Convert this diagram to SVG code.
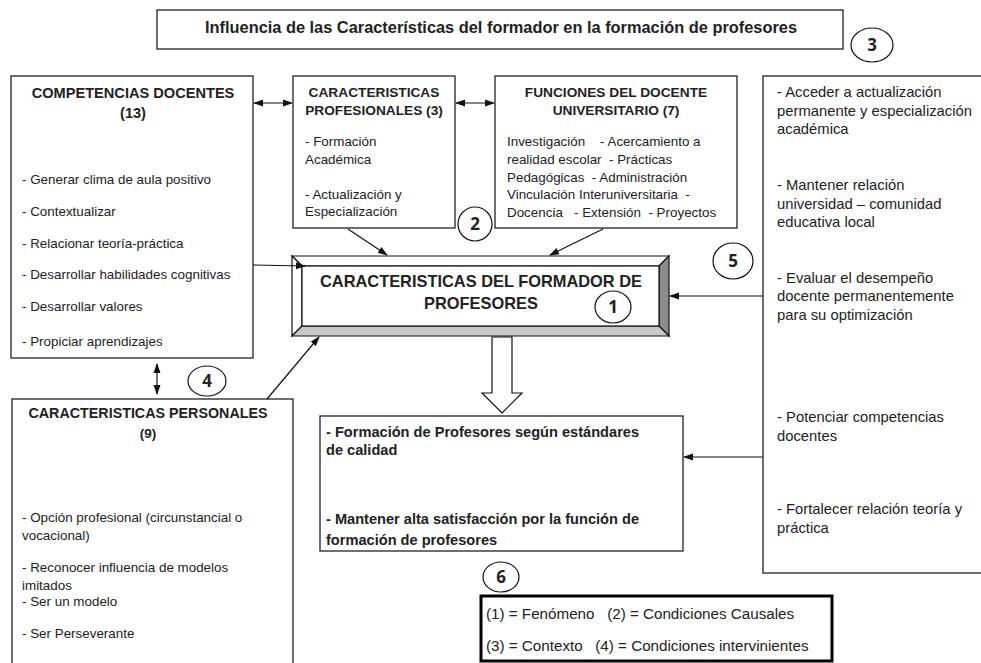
<svg xmlns="http://www.w3.org/2000/svg" width="981" height="663" viewBox="0 0 981 663">
<style>
text{font-family:"Liberation Sans",Arial,sans-serif;fill:#222}
.box{fill:#fff;stroke:#222;stroke-width:1.3}
.t{font-size:13.4px}
.r{font-size:14.8px}
.b{font-weight:bold}
.h{font-size:13.7px;font-weight:bold}
.c{text-anchor:middle}
.circ{fill:#fff;stroke:#111;stroke-width:1.2}
.num{font-family:"Open Sans","Liberation Sans",sans-serif;font-size:17px;font-weight:bold;text-anchor:middle;fill:#222}
.ln{stroke:#111;stroke-width:1.2;fill:none}
</style>
<defs>
<marker id="ah" markerWidth="10" markerHeight="8" refX="9" refY="4" orient="auto" markerUnits="userSpaceOnUse">
<path d="M0,0.5 L10,4 L0,7.5 Z" fill="#111"/>
</marker>
<marker id="as" markerWidth="10" markerHeight="8" refX="1" refY="4" orient="auto" markerUnits="userSpaceOnUse">
<path d="M10,0.5 L0,4 L10,7.5 Z" fill="#111"/>
</marker>
</defs>
<rect width="981" height="663" fill="#fff"/>

<g id="title">
<rect class="box" x="157" y="10" width="686" height="39"/>
<text class="c b" x="501" y="33" style="font-size:16px" textLength="592" lengthAdjust="spacingAndGlyphs">Influencia de las Características del formador en la formación de profesores</text>
</g>
<g id="n3"><ellipse class="circ" cx="872" cy="45" rx="21" ry="17"/><text class="num" x="872" y="51">3</text></g>

<g id="competencias">
<rect class="box" x="11" y="76" width="242" height="282"/>
<text class="b c" x="133" y="98" style="font-size:14.6px">COMPETENCIAS DOCENTES</text>
<text class="b c" x="133" y="118" style="font-size:14.6px">(13)</text>
<text class="t" x="22" y="184">- Generar clima de aula positivo</text>
<text class="t" x="22" y="216">- Contextualizar</text>
<text class="t" x="22" y="248">- Relacionar teoría-práctica</text>
<text class="t" x="22" y="279">- Desarrollar habilidades cognitivas</text>
<text class="t" x="22" y="311">- Desarrollar valores</text>
<text class="t" x="22" y="346">- Propiciar aprendizajes</text>
</g>

<g id="profesionales">
<rect class="box" x="293" y="76" width="162" height="152"/>
<text class="h c" x="374" y="97">CARACTERISTICAS</text>
<text class="h c" x="374" y="115">PROFESIONALES (3)</text>
<text class="t" x="305" y="146">- Formación</text>
<text class="t" x="305" y="164">Académica</text>
<text class="t" x="305" y="199">- Actualización y</text>
<text class="t" x="305" y="216">Especialización</text>
</g>

<g id="funciones">
<rect class="box" x="495" y="76" width="242" height="152"/>
<text class="h c" x="616" y="97">FUNCIONES DEL DOCENTE</text>
<text class="h c" x="616" y="115">UNIVERSITARIO (7)</text>
<text class="t" x="507" y="146" xml:space="preserve">Investigación    - Acercamiento a</text>
<text class="t" x="507" y="164" xml:space="preserve">realidad escolar  - Prácticas</text>
<text class="t" x="507" y="182" xml:space="preserve">Pedagógicas  - Administración</text>
<text class="t" x="507" y="199" xml:space="preserve">Vinculación Interuniversitaria  -</text>
<text class="t" x="507" y="217" xml:space="preserve">Docencia   - Extensión  - Proyectos</text>
</g>
<g id="n2"><ellipse class="circ" cx="475" cy="224" rx="17" ry="17"/><text class="num" x="475" y="230">2</text></g>

<g id="fenomeno">
<rect x="292" y="256" width="377" height="80" fill="#fff"/>
<polygon points="292,256 669,256 659,266 302,266" fill="#fff" stroke="#111" stroke-width="1.2"/>
<polygon points="292,256 302,266 302,326 292,336" fill="#fff" stroke="#111" stroke-width="1.2"/>
<polygon points="669,256 669,336 659,326 659,266" fill="#8c8c8c" stroke="#111" stroke-width="1.2"/>
<polygon points="292,336 302,326 659,326 669,336" fill="#c8c8c8" stroke="#111" stroke-width="1.2"/>
<rect x="302" y="266" width="357" height="60" fill="#fff" stroke="#111" stroke-width="1.2"/>
<text class="b c" x="481" y="287" style="font-size:16.4px">CARACTERISTICAS DEL FORMADOR DE</text>
<text class="b c" x="481" y="309" style="font-size:16.4px">PROFESORES</text>
</g>
<g id="n1"><ellipse class="circ" cx="613" cy="307" rx="18" ry="16"/><text class="num" x="613" y="313">1</text></g>

<g id="contexto">
<rect class="box" x="763" y="76" width="240" height="497"/>
<text class="r" x="777" y="97">- Acceder a actualización</text>
<text class="r" x="777" y="116">permanente y especialización</text>
<text class="r" x="777" y="134">académica</text>
<text class="r" x="777" y="190">- Mantener relación</text>
<text class="r" x="777" y="209">universidad – comunidad</text>
<text class="r" x="777" y="227">educativa local</text>
<text class="r" x="777" y="283">- Evaluar el desempeño</text>
<text class="r" x="777" y="301">docente permanentemente</text>
<text class="r" x="777" y="320">para su optimización</text>
<text class="r" x="777" y="422">- Potenciar competencias</text>
<text class="r" x="777" y="441">docentes</text>
<text class="r" x="777" y="514">- Fortalecer relación teoría y</text>
<text class="r" x="777" y="533">práctica</text>
</g>
<g id="n5"><ellipse class="circ" cx="733" cy="261" rx="20" ry="18"/><text class="num" x="733" y="267">5</text></g>

<g id="personales">
<rect class="box" x="12" y="399" width="281" height="280"/>
<text class="b c" x="148" y="418" style="font-size:14.3px">CARACTERISTICAS PERSONALES</text>
<text class="b c" x="148" y="438" style="font-size:13.5px">(9)</text>
<text class="t" x="22" y="522">- Opción profesional (circunstancial o</text>
<text class="t" x="22" y="540">vocacional)</text>
<text class="t" x="22" y="572">- Reconocer influencia de modelos</text>
<text class="t" x="22" y="590">imitados</text>
<text class="t" x="22" y="606">- Ser un modelo</text>
<text class="t" x="22" y="638">- Ser Perseverante</text>
</g>
<g id="n4"><ellipse class="circ" cx="207" cy="381" rx="19" ry="15"/><text class="num" x="207" y="387">4</text></g>

<g id="consecuencias">
<rect class="box" x="320" y="416" width="363" height="135"/>
<text class="b" x="326" y="437" style="font-size:14.6px">- Formación de Profesores según estándares</text>
<text class="b" x="326" y="455" style="font-size:14.6px">de calidad</text>
<text class="b" x="326" y="524" style="font-size:14.6px">- Mantener alta satisfacción por la función de</text>
<text class="b" x="326" y="545" style="font-size:14.6px">formación de profesores</text>
</g>
<g id="n6"><ellipse class="circ" cx="501" cy="577" rx="18" ry="15"/><text class="num" x="501" y="583">6</text></g>

<g id="leyenda">
<rect x="481" y="596" width="351" height="65" fill="#fff" stroke="#000" stroke-width="3"/>
<text x="486" y="619" style="font-size:15.2px" xml:space="preserve">(1) = Fenómeno   (2) = Condiciones Causales</text>
<text x="486" y="651" style="font-size:15.2px" xml:space="preserve">(3) = Contexto   (4) = Condiciones intervinientes</text>
</g>

<g id="connectors">
<line class="ln" x1="254" y1="103" x2="292" y2="103" marker-start="url(#as)" marker-end="url(#ah)"/>
<line class="ln" x1="456" y1="103" x2="494" y2="103" marker-start="url(#as)" marker-end="url(#ah)"/>
<line class="ln" x1="348" y1="229" x2="387" y2="255" marker-end="url(#ah)"/>
<line class="ln" x1="603" y1="229" x2="550" y2="255" marker-end="url(#ah)"/>
<line class="ln" x1="253" y1="265" x2="305" y2="266" marker-end="url(#ah)"/>
<line class="ln" x1="267" y1="399" x2="319" y2="337" marker-end="url(#ah)"/>
<line class="ln" x1="763" y1="296" x2="670" y2="296" marker-end="url(#ah)"/>
<line class="ln" x1="763" y1="457" x2="684" y2="457" marker-end="url(#ah)"/>
<line class="ln" x1="157" y1="364" x2="157" y2="394" stroke-width="1" marker-start="url(#as)" marker-end="url(#ah)"/>
<polygon points="492,337 512,337 512,393 522,393 502,413 482,393 492,393" fill="#fff" stroke="#111" stroke-width="1.2"/>
</g>
</svg>
